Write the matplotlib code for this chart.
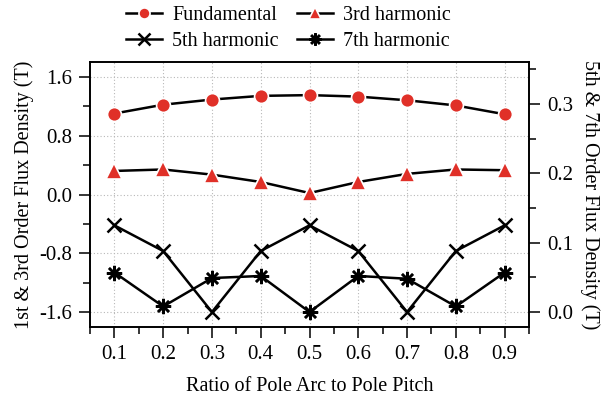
import matplotlib
matplotlib.use("Agg")
import matplotlib.pyplot as plt
from matplotlib.ticker import MultipleLocator

plt.rcParams['font.family'] = ['Liberation Serif', 'DejaVu Serif']
plt.rcParams['font.size'] = 14.5

ratio = [0.1, 0.2, 0.3, 0.4, 0.5, 0.6, 0.7, 0.8, 0.9]
fundamental = [1.10, 1.22, 1.29, 1.34, 1.35, 1.33, 1.28, 1.21, 1.09]
third = [0.32, 0.34, 0.27, 0.17, 0.02, 0.17, 0.28, 0.34, 0.33]
fifth = [0.125, 0.088, 0.0, 0.088, 0.125, 0.088, 0.0, 0.088, 0.125]
seventh = [0.057, 0.008, 0.049, 0.052, 0.0, 0.052, 0.048, 0.008, 0.057]

red = '#e03028'

fig = plt.figure(figsize=(6.01, 3.99), dpi=100)
ax = fig.add_axes([90 / 601, 1 - 327 / 399, (529 - 90) / 601, (327 - 62) / 399])
ax2 = ax.twinx()

l1, = ax.plot(ratio, fundamental, color='black', lw=1.8, marker='o', ms=10,
              mfc=red, mec='white', mew=1.2, label='Fundamental')
l2, = ax.plot(ratio, third, color='black', lw=1.8, marker='^', ms=11,
              mfc=red, mec='white', mew=1.2, label='3rd harmonic')
l3, = ax2.plot(ratio, fifth, color='black', lw=1.8, marker='x', ms=10,
               mew=1.8, label='5th harmonic')
l4, = ax2.plot(ratio, seventh, color='black', lw=1.8, marker=(8, 2, 0), ms=11,
               mew=1.8, label='7th harmonic')

ax.set_xlim(0.05, 0.95)
ax.set_ylim(-1.8, 1.8)
ax2.set_ylim(-0.0216, 0.3606)

ax.xaxis.set_minor_locator(MultipleLocator(0.05))
ax.yaxis.set_minor_locator(MultipleLocator(0.4))
ax2.yaxis.set_major_locator(MultipleLocator(0.1))
ax2.yaxis.set_minor_locator(MultipleLocator(0.05))
ax.set_xticks([0.1, 0.2, 0.3, 0.4, 0.5, 0.6, 0.7, 0.8, 0.9])
ax.set_xticklabels(['0.1', '0.2', '0.3', '0.4', '0.5', '0.6', '0.7', '0.8', '0.9'])
ax.set_yticks([-1.6, -0.8, 0.0, 0.8, 1.6])
ax.set_yticklabels(['-1.6', '-0.8', '0.0', '0.8', '1.6'])

ax.grid(True, which='major', color='#b8b8b8', ls=(0, (1, 2)), lw=0.8)
ax.set_axisbelow(True)

for a in (ax, ax2):
    a.tick_params(which='major', direction='out', length=8, width=1.1, labelsize=15, pad=5)
    a.tick_params(which='minor', direction='out', length=5, width=1.1)
    for s in a.spines.values():
        s.set_linewidth(1.2)

ax.set_xlabel('Ratio of Pole Arc to Pole Pitch', fontsize=14.5, labelpad=9)
ax.set_ylabel('1st & 3rd Order Flux Density (T)', fontsize=14.5, labelpad=4)
ax2.set_ylabel('5th & 7th Order Flux Density (T)', fontsize=14.5, rotation=270, labelpad=19)

handles = [l1, l3, l2, l4]
fig.legend(handles, [h.get_label() for h in handles],
           ncol=2, loc='upper center', bbox_to_anchor=(0.48, 1.03), frameon=False,
           handlelength=1.8, columnspacing=0.9, handletextpad=0.5,
           labelspacing=0.35, fontsize=14.5, markerscale=0.8)

fig.savefig('out.png', dpi=100)
